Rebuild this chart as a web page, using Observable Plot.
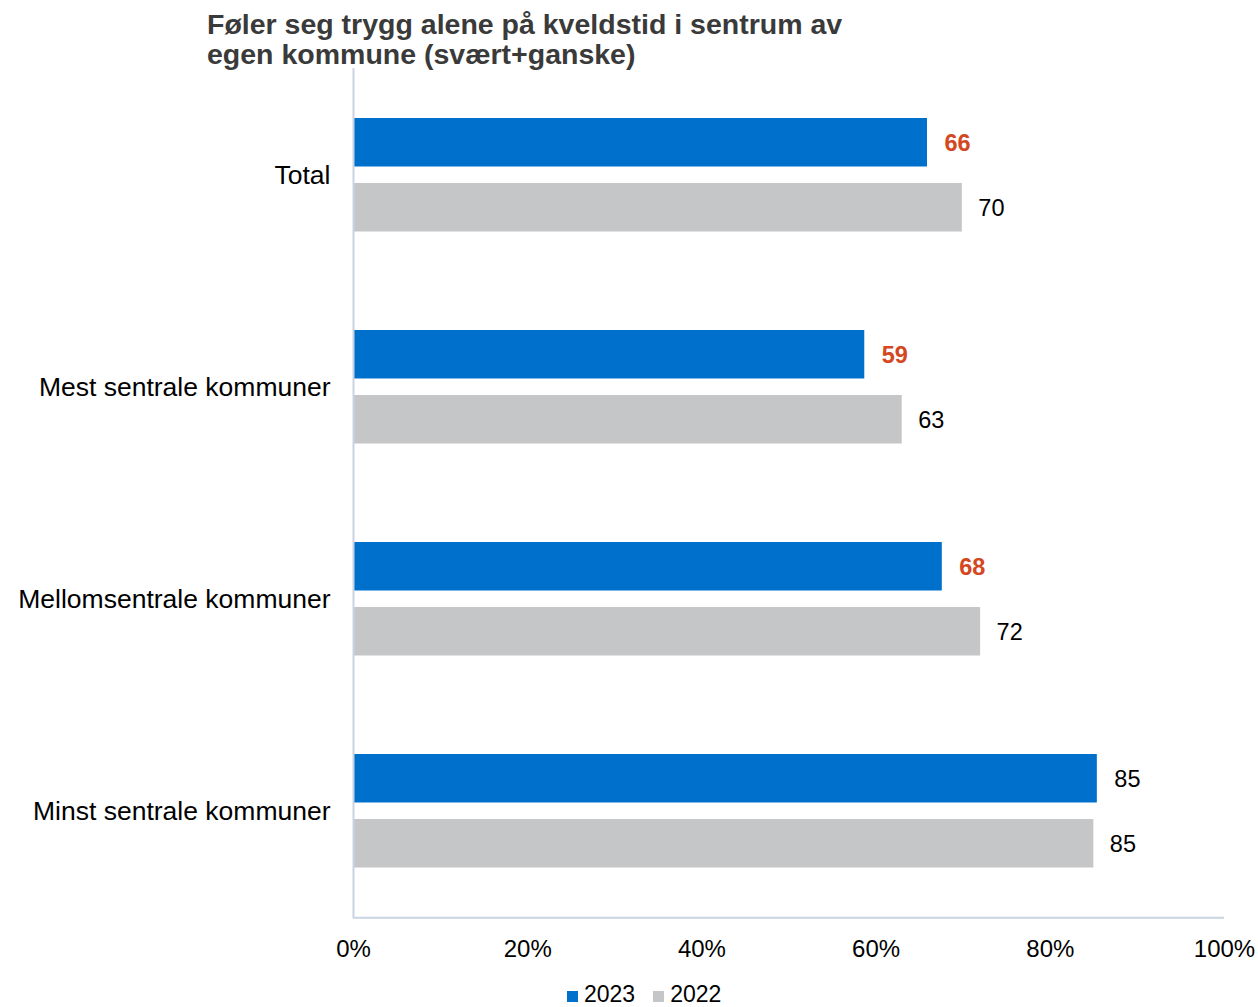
<!DOCTYPE html>
<html>
<head>
<meta charset="utf-8">
<script src="https://cdn.jsdelivr.net/npm/d3@7"></script>
<script src="https://cdn.jsdelivr.net/npm/@observablehq/plot@0.6"></script>
<style>
  html, body { margin: 0; padding: 0; background: #fff; }
  #wrap { width: 1258px; height: 1007px; position: relative; overflow: hidden; font-family: "Liberation Sans", Arial, sans-serif; }
  #title { position: absolute; z-index: 2; left: 207px; top: 9px; font-size: 28.5px; line-height: 30px; font-weight: bold; color: #3a3a3a; letter-spacing: 0px; }
  #chart { position: absolute; z-index: 1; left: 0; top: 68px; }
  #legend { position: absolute; top: 983px; left: 567px; font-size: 23px; line-height: 23px; color: #000; white-space: nowrap; }
  .sw { display: inline-block; width: 11px; height: 11px; margin-right: 6px; vertical-align: 0px; }
  .item { margin-right: 18px; }
</style>
</head>
<body>
<div id="wrap">
  <div id="title">Føler seg trygg alene på kveldstid i sentrum av<br>egen kommune (svært+ganske)</div>
  <div id="chart"></div>
  <div id="legend"></div>
</div>
<script>
const categories = ["Total", "Mest sentrale kommuner", "Mellomsentrale kommuner", "Minst sentrale kommuner"];
const years = ["2023", "2022"];
const values2023 = [65.9, 58.7, 67.6, 85.4];
const values2022 = [69.9, 63.0, 72.0, 85.0];
const marked2023 = [true, true, true, false];
const xTicks = [0, 20, 40, 60, 80, 100];

const colors = { "2023": "#0070cd", "2022": "#c5c6c8" };

const d23 = categories.map((c, i) => ({ category: c, year: "2023", value: values2023[i], marked: marked2023[i] }));
const d22 = categories.map((c, i) => ({ category: c, year: "2022", value: values2022[i], marked: false }));
const fmt = d => String(Math.round(d.value));

const chart = Plot.plot({
  width: 1258,
  height: 900,
  marginTop: 0,
  marginBottom: 50,
  marginLeft: 353,
  marginRight: 34,
  style: { fontFamily: "'Liberation Sans', Arial, sans-serif", fontSize: "24px", color: "#000", background: "transparent", overflow: "visible" },
  x: { domain: [0, 100], label: null, axis: null },
  y: { domain: categories, padding: 0, label: null, axis: null },
  marks: [
    Plot.axisY({ tickSize: 0, tickPadding: 23, fontSize: 26.5, label: null }),
    Plot.axisX({ ticks: xTicks, tickFormat: d => d + "%", tickSize: 0, tickPadding: 21, label: null }),
    Plot.barX(d23, { x: "value", y: "category", fill: colors["2023"], insetTop: 49, insetBottom: 114.5 }),
    Plot.barX(d22, { x: "value", y: "category", fill: colors["2022"], insetTop: 114, insetBottom: 49.5 }),
    Plot.text(d23.filter(d => d.marked), { x: "value", y: "category", text: fmt, dx: 17, dy: -32.5, textAnchor: "start",
      fill: "#d4471f", fontWeight: "bold", fontSize: 23.5 }),
    Plot.text(d23.filter(d => !d.marked), { x: "value", y: "category", text: fmt, dx: 17, dy: -32.5, textAnchor: "start",
      fill: "#000", fontSize: 23.5 }),
    Plot.text(d22, { x: "value", y: "category", text: fmt, dx: 16, dy: 32.5, textAnchor: "start",
      fill: "#000", fontSize: 23.5 }),
    Plot.ruleX([0], { stroke: "#c9d3e3", strokeWidth: 2 }),
    Plot.ruleY([categories[categories.length - 1]], { x1: 0, x2: 100, dy: 106.25, stroke: "#c9d3e3", strokeWidth: 2 })
  ]
});
document.getElementById("chart").appendChild(chart);

const legend = document.getElementById("legend");
years.forEach(y => {
  const s = document.createElement("span");
  s.className = "item";
  s.innerHTML = `<span class="sw" style="background:${colors[y]}"></span>${y}`;
  legend.appendChild(s);
});
</script>
</body>
</html>
